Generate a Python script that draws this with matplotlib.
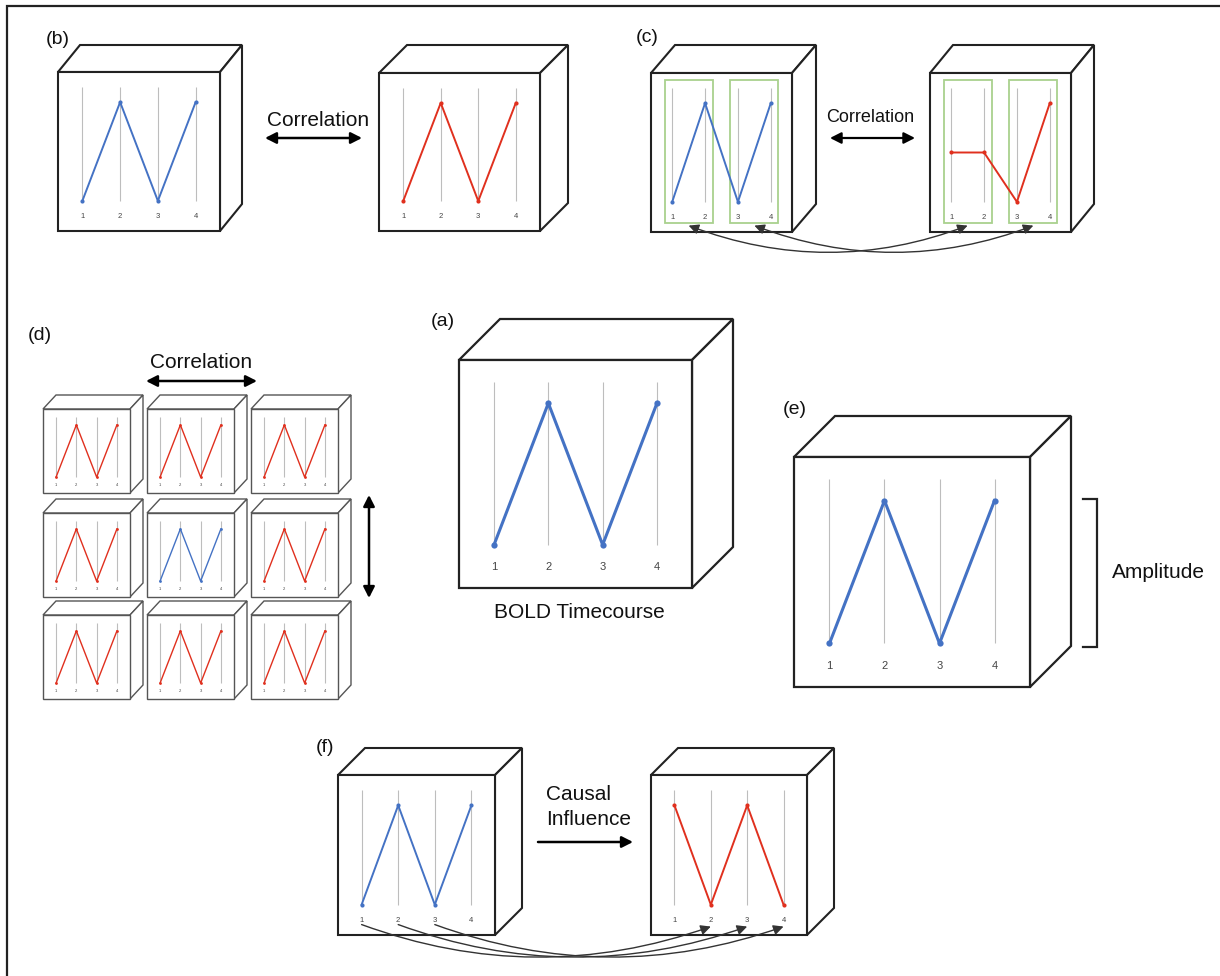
import matplotlib.pyplot as plt
from matplotlib.patches import ConnectionPatch, Polygon, Rectangle

plt.rcParams["font.family"] = ["Liberation Sans", "DejaVu Sans"]

W, H = 1220, 976

# four time points of a toy BOLD signal
timepoints = [1, 2, 3, 4]
tick_labels = ["1", "2", "3", "4"]
seed_signal = [0, 1, 0, 1]
correlated_signal = [0, 1, 0, 1]
windowed_signal = [0.5, 0.5, 0, 1]
lagged_signal = [1, 0, 1, 0]
windows = [(1, 2), (3, 4)]
causal_pairs = [(1, 2), (2, 3), (3, 4)]

BLUE = "#4472c4"
RED = "#e0301e"
GRID = "#bdbdbd"
GREEN = "#a9d18e"
INK = "#222222"

XPAD = 0.645
YLIM = (-0.305, 1.305)

fig = plt.figure(figsize=(W / 100, H / 100), dpi=100)
bg = fig.add_axes([0, 0, 1, 1])
bg.set_xlim(0, W)
bg.set_ylim(H, 0)
bg.axis("off")


def cube(box, depth, edge=INK, lw=1.5):
    """Front face + top + right side, in pixel coords."""
    x0, y0, x1, y1 = box
    dx, dy = depth
    faces = [
        [(x0, y0), (x1, y0), (x1 + dx, y0 + dy), (x0 + dx, y0 + dy)],
        [(x1, y0), (x1, y1), (x1 + dx, y1 + dy), (x1 + dx, y0 + dy)],
        [(x0, y0), (x1, y0), (x1, y1), (x0, y1)],
    ]
    for f in faces:
        bg.add_patch(
            Polygon(f, closed=True, facecolor="white", edgecolor=edge, lw=lw, joinstyle="miter")
        )


def trace(box, values, color, lw=1.4, ms=3, fs=5.5, wins=None):
    """Timecourse drawn in an inset axes that sits on the cube's front face."""
    x0, y0, x1, y1 = box
    ax = fig.add_axes([x0 / W, 1 - y1 / H, (x1 - x0) / W, (y1 - y0) / H])
    ax.set_xlim(timepoints[0] - XPAD, timepoints[-1] + XPAD)
    ax.set_ylim(*YLIM)
    ax.axis("off")
    ax.vlines(timepoints, 0, 1.15, color=GRID, lw=0.8)
    ax.plot(timepoints, values, color=color, lw=lw, marker="o", ms=ms, mew=0)
    for t, lab in zip(timepoints, tick_labels):
        ax.text(t, -0.155, lab, ha="center", va="center", fontsize=fs, color="#444444")
    for lo, hi in wins or []:
        ax.add_patch(
            Rectangle((lo - 0.23, -0.21), hi - lo + 0.46, 1.44, fill=False, edgecolor=GREEN, lw=1.3)
        )
    return ax


def panel(box, depth, values, color, edge_lw=1.5, **kw):
    cube(box, depth, lw=edge_lw)
    return trace(box, values, color, **kw)


def arrow(xy_from, xy_to, style="<|-|>", lw=1.8):
    bg.annotate(
        "",
        xy=xy_to,
        xytext=xy_from,
        arrowprops=dict(
            arrowstyle=f"{style},head_length=0.55,head_width=0.28",
            lw=lw,
            color="black",
            shrinkA=0,
            shrinkB=0,
            mutation_scale=12,
        ),
    )


def label(x, y, s, fs=14, **kw):
    bg.text(x, y, s, fontsize=fs, va="center", color="#111111", **kw)


# outer frame (top + left only)
bg.plot([7, 7, W], [H, 6, 6], color=INK, lw=1.6, solid_joinstyle="miter")

# (a) BOLD timecourse
panel((459, 360, 692, 588), (41, -41), seed_signal, BLUE, edge_lw=1.6, lw=2.2, ms=4.5, fs=8)
label(431, 321, "(a)")
label(579, 613, "BOLD Timecourse", fs=15, ha="center")

# (b) correlation
panel((58, 72, 220, 231), (22, -27), seed_signal, BLUE)
panel((379, 73, 540, 231), (28, -28), correlated_signal, RED)
label(46, 39, "(b)")
label(318, 121, "Correlation", fs=15, ha="center")
arrow((265, 138), (362, 138))

# (c) windowed correlation
c_left = panel((651, 73, 792, 232), (24, -28), seed_signal, BLUE, wins=windows)
c_right = panel((930, 73, 1071, 232), (23, -28), windowed_signal, RED, wins=windows)
label(636, 38, "(c)")
label(870, 117, "Correlation", fs=13, ha="center")
arrow((830, 138), (915, 138), lw=1.6)
for lo, hi in windows:
    mid = (lo + hi) / 2
    fig.add_artist(
        ConnectionPatch(
            xyA=(mid, -0.24), coordsA=c_left.transData,
            xyB=(mid, -0.24), coordsB=c_right.transData,
            arrowstyle="<|-|>,head_length=0.5,head_width=0.25",
            connectionstyle="arc3,rad=0.19",
            mutation_scale=12, lw=1.0, color="#333333", shrinkA=0, shrinkB=0,
        )
    )

# (d) neighbourhood of cubes, seed in the middle
grid_x = [43, 147, 251]
grid_y = [409, 513, 615]
for r, gy in enumerate(grid_y):
    for c, gx in enumerate(grid_x):
        box = (gx, gy, gx + 87, gy + 84)
        cube(box, (13, -14), edge="#555555", lw=1.0)
        seed = r == 1 and c == 1
        trace(box, seed_signal if seed else correlated_signal, BLUE if seed else RED,
              lw=1.0, ms=2, fs=3)
label(28, 335, "(d)")
label(201, 363, "Correlation", fs=15, ha="center")
arrow((146, 381), (257, 381))
arrow((369, 495), (369, 598))

# (e) amplitude
panel((794, 457, 1030, 687), (41, -41), seed_signal, BLUE, edge_lw=1.6, lw=2.2, ms=4.5, fs=8)
label(783, 410, "(e)")
bg.plot([1083, 1097, 1097, 1083], [499, 499, 647, 647], color=INK, lw=1.6,
        solid_joinstyle="miter")
label(1112, 572, "Amplitude", fs=15, ha="left")

# (f) causal influence
f_left = panel((338, 775, 495, 935), (27, -27), seed_signal, BLUE)
f_right = panel((651, 775, 807, 935), (27, -27), lagged_signal, RED)
label(316, 748, "(f)")
label(546, 807, "Causal\nInfluence", fs=15, ha="left", linespacing=1.45)
arrow((538, 842), (633, 842), style="-|>")
for src, dst in causal_pairs:
    fig.add_artist(
        ConnectionPatch(
            xyA=(src, -0.2), coordsA=f_left.transData,
            xyB=(dst, -0.22), coordsB=f_right.transData,
            arrowstyle="-|>,head_length=0.5,head_width=0.25",
            connectionstyle="arc3,rad=0.18",
            mutation_scale=12, lw=1.0, color="#333333", shrinkA=0, shrinkB=0,
        )
    )

fig.savefig("out.png", dpi=100)
